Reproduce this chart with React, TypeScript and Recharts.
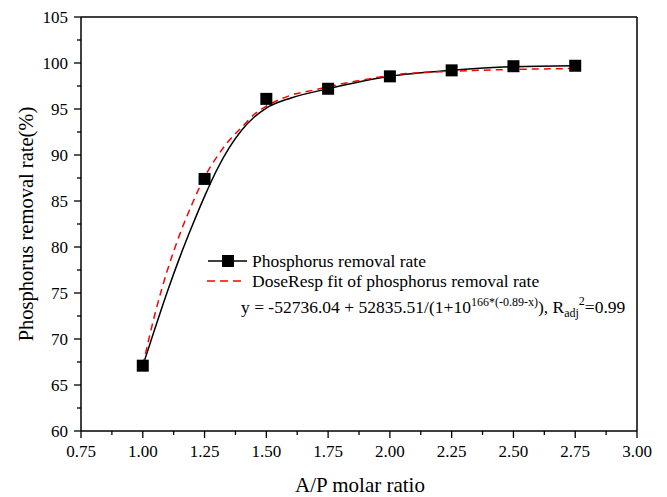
import { ComposedChart, Line, Scatter, XAxis, YAxis, ReferenceLine } from "recharts";

// measured points (A/P ratio -> removal rate %)
const ratios = [1.0, 1.25, 1.5, 1.75, 2.0, 2.25, 2.5, 2.75];
const removalRate = [67.1, 87.4, 96.1, 97.2, 98.55, 99.2, 99.65, 99.7];

// black smoothed line
const smoothX = [1.0, 1.05, 1.1, 1.15, 1.2, 1.25, 1.3, 1.35, 1.4, 1.45, 1.5, 1.6, 1.75, 2.0, 2.25, 2.5, 2.75];
const smoothY = [67.1, 71.2, 75.2, 78.9, 82.3, 85.5, 88.4, 90.8, 92.7, 94.1, 95.1, 96.2, 97.2, 98.55, 99.2, 99.6, 99.7];

// red dashed DoseResp fit
const fitX = [1.0, 1.05, 1.1, 1.15, 1.2, 1.25, 1.3, 1.35, 1.4, 1.45, 1.5, 1.6, 1.7, 1.8, 1.9, 2.0, 2.25, 2.5, 2.75];
const fitY = [67.1, 72.8, 77.5, 81.4, 84.7, 87.6, 89.8, 91.6, 93.0, 94.4, 95.3, 96.5, 97.1, 97.7, 98.2, 98.65, 99.1, 99.3, 99.4];

const xMajor = [0.75, 1.0, 1.25, 1.5, 1.75, 2.0, 2.25, 2.5, 2.75, 3.0];
const xMinor = [0.875, 1.125, 1.375, 1.625, 1.875, 2.125, 2.375, 2.625, 2.875];
const yMajor = [60, 65, 70, 75, 80, 85, 90, 95, 100, 105];
const yMinor = [62.5, 67.5, 72.5, 77.5, 82.5, 87.5, 92.5, 97.5, 102.5];

const FONT = '"Liberation Serif", "Times New Roman", serif';
const serif = { fontFamily: FONT };

const points = ratios.map((x, i) => ({ x, y: removalRate[i] }));
const smooth = smoothX.map((x, i) => ({ x, y: smoothY[i] }));
const fit = fitX.map((x, i) => ({ x, y: fitY[i] }));

const XTick = (props: any) => {
  const { x, y, payload } = props;
  const major = xMajor.includes(payload.value);
  return (
    <g>
      <line x1={x} x2={x} y1={y} y2={y + (major ? 7 : 4)} stroke="#000" strokeWidth={1.3} />
      {major && (
        <text x={x} y={y + 26} textAnchor="middle" fontSize={17} style={serif} fill="#000">
          {payload.value.toFixed(2)}
        </text>
      )}
    </g>
  );
};

const YTick = (props: any) => {
  const { x, y, payload } = props;
  const major = yMajor.includes(payload.value);
  return (
    <g>
      <line x1={x} x2={x - (major ? 7 : 4)} y1={y} y2={y} stroke="#000" strokeWidth={1.3} />
      {major && (
        <text x={x - 13} y={y + 6} textAnchor="end" fontSize={17} style={serif} fill="#000">
          {payload.value}
        </text>
      )}
    </g>
  );
};

const Square = (p: any) => <rect x={p.cx - 6} y={p.cy - 6} width={12} height={12} fill="#000" />;

export default function App() {
  return (
    <div style={{ position: "absolute", left: 0, top: 0, width: 667, height: 497, background: "#fff" }}>
      <ComposedChart width={667} height={497} margin={{ top: 17, right: 30, left: 0, bottom: 0 }}>
        <XAxis
          type="number"
          dataKey="x"
          domain={[0.75, 3]}
          ticks={[...xMajor, ...xMinor].sort((a, b) => a - b)}
          interval={0}
          height={66}
          tickSize={0}
          tickMargin={0}
          tickLine={false}
          tick={<XTick />}
          axisLine={{ stroke: "#000", strokeWidth: 1.5 }}
          allowDataOverflow
        />
        <YAxis
          type="number"
          dataKey="y"
          domain={[60, 105]}
          ticks={[...yMajor, ...yMinor].sort((a, b) => a - b)}
          interval={0}
          width={81}
          tickSize={0}
          tickMargin={0}
          tickLine={false}
          tick={<YTick />}
          axisLine={{ stroke: "#000", strokeWidth: 1.5 }}
          allowDataOverflow
        />
        <ReferenceLine y={105} stroke="#000" strokeWidth={1.5} />
        <ReferenceLine x={3} stroke="#000" strokeWidth={1.5} />
        <Line data={smooth} dataKey="y" type="monotone" stroke="#000" strokeWidth={1.5} dot={false} isAnimationActive={false} />
        <Scatter data={points} dataKey="y" shape={Square} isAnimationActive={false} />
        <Line data={fit} dataKey="y" type="monotone" stroke="#ff0000" strokeWidth={1.5} strokeDasharray="7 5" dot={false} isAnimationActive={false} />
      </ComposedChart>

      <svg width={667} height={497} style={{ position: "absolute", left: 0, top: 0, pointerEvents: "none", fontFamily: FONT }}>
        <text transform="translate(26,224) rotate(-90)" textAnchor="middle" fontSize={20.5} fill="#000" dominantBaseline="central">
          Phosphorus removal rate(%)
        </text>
        <text x={360} y={492} textAnchor="middle" fontSize={21} fill="#000">A/P molar ratio</text>

        <line x1={208} x2={247} y1={261} y2={261} stroke="#000" strokeWidth={1.5} />
        <rect x={222} y={255} width={12} height={12} fill="#000" />
        <text x={252} y={267} fontSize={17.5} fill="#000">Phosphorus removal rate</text>

        <line x1={207} x2={243} y1={281} y2={281} stroke="#ff0000" strokeWidth={1.5} strokeDasharray="8 5" />
        <text x={252} y={287} fontSize={17.5} fill="#000">DoseResp fit of phosphorus removal rate</text>

        <text x={241} y={313} fontSize={17.5} fill="#000">
          y = -52736.04 + 52835.51/(1+10
          <tspan dy={-7} fontSize={12}>166*(-0.89-x)</tspan>
          <tspan dy={7} fontSize={17.5}>), R</tspan>
          <tspan dy={4} fontSize={12}>adj</tspan>
          <tspan dy={-12} fontSize={12}>2</tspan>
          <tspan dy={8} fontSize={17.5}>=0.99</tspan>
        </text>
      </svg>
    </div>
  );
}
